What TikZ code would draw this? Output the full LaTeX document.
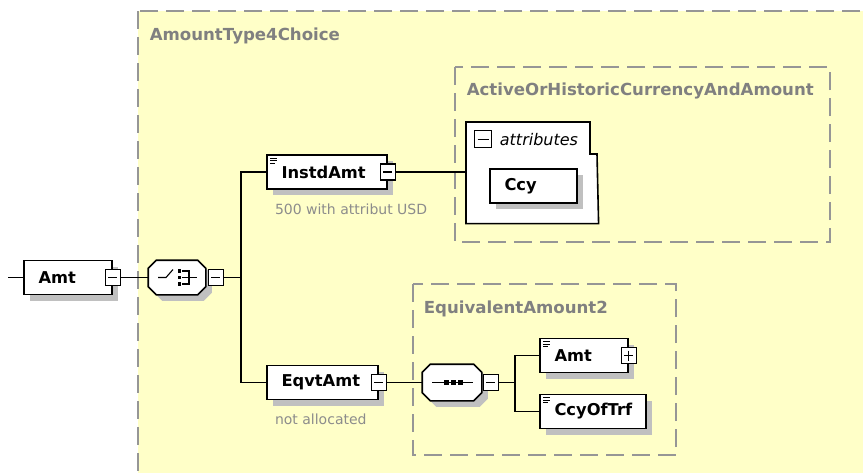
\documentclass[tikz,border=0pt]{standalone}
\usepackage{fontspec}
\setmainfont{DejaVu Sans}[BoldFont={DejaVu Sans Bold}, ItalicFont={DejaVu Sans Oblique}, BoldItalicFont={DejaVu Sans Bold Oblique}]
\usepackage{tikz}
\usetikzlibrary{positioning, calc, shadows}
\usepackage{xcolor}
\definecolor{XsdFondo}{RGB}{255,255,200}
\definecolor{XsdBorde}{RGB}{150,150,150}
\definecolor{XsdTitulo}{RGB}{128,128,128}
\definecolor{XsdNota}{RGB}{140,140,140}
\definecolor{XsdSombra}{RGB}{192,192,192}
\newcommand\xsdlbl{\fontsize{16.3}{19}\selectfont\bfseries}
\newcommand\xsdtit{\fontsize{16.6}{19}\selectfont\bfseries}
\newcommand\xsdnota{\fontsize{14}{16}\selectfont}
\newcommand\xsdit{\fontsize{16}{18}\selectfont\itshape}

\begin{document}
\begin{tikzpicture}[x=1pt, y=-1pt, line width=1.6pt,
  sombra/.style={drop shadow={shadow xshift=6pt, shadow yshift=-6pt, fill=XsdSombra, opacity=1}},
  elem/.style={rectangle, draw, fill=white, sombra, font=\xsdlbl, inner xsep=14.5pt, inner ysep=0pt, minimum height=34pt, text width=#1, align=left},
  condoc/.style={path picture={
      \draw[line width=0.8pt] ([shift={(3pt,-3pt)}]path picture bounding box.north west) -- ++(7pt,0pt);
      \draw[line width=0.8pt] ([shift={(3pt,-5.5pt)}]path picture bounding box.north west) -- ++(7pt,0pt);
      \draw[line width=0.8pt] ([shift={(3pt,-8pt)}]path picture bounding box.north west) -- ++(5pt,0pt);}},
  expbox/.style={rectangle, draw, fill=white, line width=1.1pt, minimum width=15pt, minimum height=16pt, inner sep=0pt},
  expmenos/.style={expbox, path picture={
      \draw[line width=1.1pt] ([xshift=3pt]path picture bounding box.west) -- ([xshift=-3pt]path picture bounding box.east);}},
  expmas/.style={expbox, path picture={
      \draw[line width=1.1pt] ([xshift=3pt]path picture bounding box.west) -- ([xshift=-3pt]path picture bounding box.east);
      \draw[line width=1.1pt] ([yshift=-3pt]path picture bounding box.north) -- ([yshift=3pt]path picture bounding box.south);}},
  octo/.style={rectangle, inner sep=0pt},
  grupo/.style={draw=XsdBorde, fill=XsdFondo, line width=1.5pt, dash pattern=on 18pt off 8pt},
  titulo/.style={font=\xsdtit, text=XsdTitulo, inner sep=0pt, anchor=base west},
  nota/.style={font=\xsdnota, text=XsdNota, inner sep=0pt}]

  \useasboundingbox (0,0) rectangle (863,472);
  \clip (0,0) rectangle (863,472);

  % tipos
  \draw[grupo] (138,11) rectangle (900,520);
  \node[titulo] (tChoice) at (149,40) {AmountType4Choice};
  \draw[grupo] (455,67) rectangle (830,242);
  \node[titulo] (tActive) at (466,95) {ActiveOrHistoricCurrencyAndAmount};
  \draw[grupo] (413,284) rectangle (676,455);
  \node[titulo] (tEquiv) at (423,313) {EquivalentAmount2};

  % elemento raiz y choice
  \coordinate (entrada) at (8,277.5);
  \node[elem=59pt] (amt) at (68,277.5) {Amt};
  \node[expmenos] (amtX) at (amt.east) {};
  \node[octo, minimum width=56pt, minimum height=33pt] (choice) at (177,277.5) {};
  \node[octo, minimum width=58pt, minimum height=35pt] (seq) at (452,382.5) {};
  \foreach \o in {choice,seq}
    \draw[fill=white, sombra] ([xshift=8pt]\o.north west) -- ([xshift=-8pt]\o.north east)
      -- ([yshift=-8pt]\o.north east) -- ([yshift=8pt]\o.south east) -- ([xshift=-8pt]\o.south east)
      -- ([xshift=8pt]\o.south west) -- ([yshift=8pt]\o.south west) -- ([yshift=-8pt]\o.north west) -- cycle;
  \node[expmenos, anchor=west] (choiceX) at ([xshift=2pt]choice.east) {};
  \begin{scope}[shift={(choice.center)}, line width=1.1pt]
    \draw (-19,0) -- (-11,0) -- (-4,-8);
    \foreach \yy in {-6.5,0,6.5}
      \fill ($(2.5,\yy)+(-1.8,-1.8)$) rectangle ++(3.6,3.6);
    \draw (5,-6.5) -- (12,-6.5) -- (12,6.5) -- (5,6.5);
    \draw (5,0) -- (20,0);
  \end{scope}

  % InstdAmt
  \node[elem=91pt, condoc] (instd) at (327,172) {InstdAmt};
  \node[expmenos] (instdX) at (instd.east) {};
  \node[nota, below right=25pt and 8pt of instd.south west, anchor=base west] (nInstd) {500 with attribut USD};
  \node[minimum width=131pt, minimum height=100pt, inner sep=0pt, anchor=north west] (attr) at (466,122) {};
  \draw[fill=white] (attr.north west) -- ++(124,0) -- ++(0,32) -- ++(7,0) -- (attr.south east) -- (attr.south west) -- cycle;
  \node[expmenos, minimum width=17pt, minimum height=17pt, anchor=north west] (attrX) at ([shift={(8pt,-8pt)}]attr.north west) {};
  \node[font=\xsdit, inner sep=0pt, right=7pt of attrX] (attrT) {attributes};
  \node[elem=58pt] (ccy) at (533.5,186) {Ccy};

  % EqvtAmt
  \node[elem=82pt] (eqvt) at (322.5,382.5) {EqvtAmt};
  \node[expmenos] (eqvtX) at (eqvt.east) {};
  \node[nota, below right=24pt and 8pt of eqvt.south west, anchor=base west] (nEqvt) {not allocated};
  \node[expmenos, anchor=west] (seqX) at ([xshift=1pt]seq.east) {};
  \begin{scope}[shift={(seq.center)}, line width=1.1pt]
    \draw (-20,0) -- (21,0);
    \foreach \xx in {-6,1,8}
      \fill ($(\xx,0)+(-2.5,-2.5)$) rectangle ++(5,5);
  \end{scope}
  \node[elem=59pt, condoc] (subamt) at (584,355.5) {Amt};
  \node[expmas] (subamtX) at (subamt.east) {};
  \node[elem=77pt, condoc] (ccytrf) at (593,411.5) {CcyOfTrf};

  % conectores
  \coordinate (forkA) at ([xshift=17pt]choiceX.east);
  \coordinate (forkB) at ([xshift=16pt]seqX.east);
  \draw (entrada) -- (amt.west);
  \draw (amtX.east) -- (choice.west);
  \draw (choiceX.east) -- (forkA);
  \draw (instd.west) -| (forkA) |- (eqvt.west);
  \draw (instdX.east) -- (instdX.east -| attr.west);
  \draw (eqvtX.east) -- (seq.west);
  \draw (seqX.east) -- (forkB);
  \draw (subamt.west) -| (forkB) |- (ccytrf.west);
\end{tikzpicture}
\end{document}
